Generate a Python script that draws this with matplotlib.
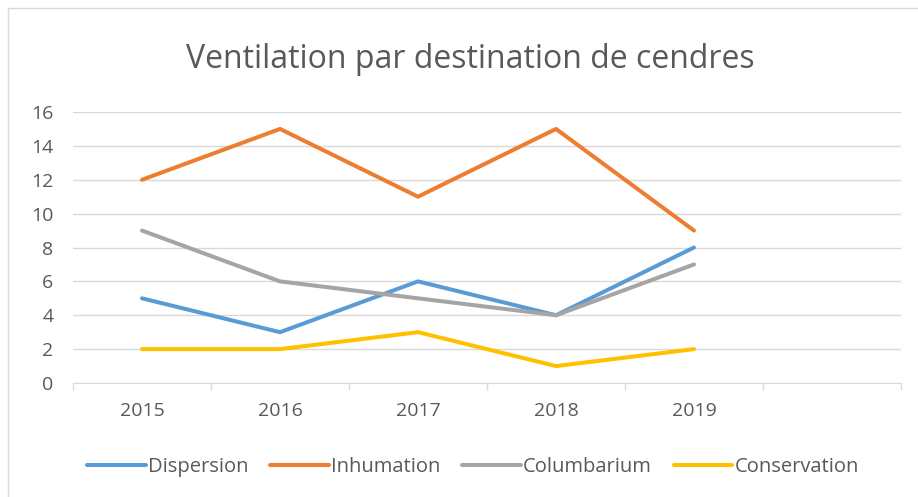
import matplotlib
matplotlib.use("Agg")
import matplotlib.pyplot as plt
from matplotlib.patches import Rectangle
import numpy as np

years = ['2015', '2016', '2017', '2018', '2019']
dispersion = [5, 3, 6, 4, 8]
inhumation = [12, 15, 11, 15, 9]
columbarium = [9, 6, 5, 4, 7]
conservation = [2, 2, 3, 1, 2]

series = [('Dispersion', dispersion, '#5B9BD5'),
          ('Inhumation', inhumation, '#ED7D31'),
          ('Columbarium', columbarium, '#A5A5A5'),
          ('Conservation', conservation, '#FFC000')]

plt.rcParams['font.family'] = ['Open Sans', 'DejaVu Sans']
W, H = 918, 497
fig = plt.figure(figsize=(W / 100, H / 100), dpi=100)

# chart frame
fig.patches.append(Rectangle((8 / W, -0.1), 1.2, 1 - 8 / H + 0.1, transform=fig.transFigure,
                             fill=False, edgecolor='#D9D9D9', lw=1))

ax = fig.add_axes([73 / W, 1 - 383 / H, (901 - 73) / W, (383 - 112) / H])
x = np.arange(len(years)) + 0.5
for name, vals, col in series:
    ax.plot(x, vals, color=col, lw=2.9, label=name, solid_capstyle='round',
            solid_joinstyle='round')

ax.set_xlim(0, 6)
ax.set_ylim(0, 16)
ax.set_yticks(range(0, 17, 2))
ax.set_xticks(x)
ax.set_xticklabels(years)
ax.set_xticks(np.arange(0, 7), minor=True)
ax.tick_params(axis='x', which='major', length=0, pad=14, labelsize=14, labelcolor='#595959')
ax.tick_params(axis='x', which='minor', length=5, color='#D9D9D9', width=1)
ax.tick_params(axis='y', length=0, pad=14, labelsize=14, labelcolor='#595959')
ax.grid(axis='y', color='#D9D9D9', lw=1)
ax.set_axisbelow(True)
for s in ['left', 'right', 'top']:
    ax.spines[s].set_visible(False)
ax.spines['bottom'].set_color('#D9D9D9')
ax.spines['bottom'].set_zorder(0.5)

fig.text(470 / W, 1 - 59 / H, 'Ventilation par destination de cendres', ha='center', va='center',
         fontsize=23, color='#595959')

fig.legend(loc='center', bbox_to_anchor=(473 / W, 1 - 467 / H), ncol=4, frameon=False,
           fontsize=14.5, labelcolor='#595959', handlelength=2.9, handletextpad=0.1,
           columnspacing=1.1)

fig.savefig('out.png', dpi=100)
